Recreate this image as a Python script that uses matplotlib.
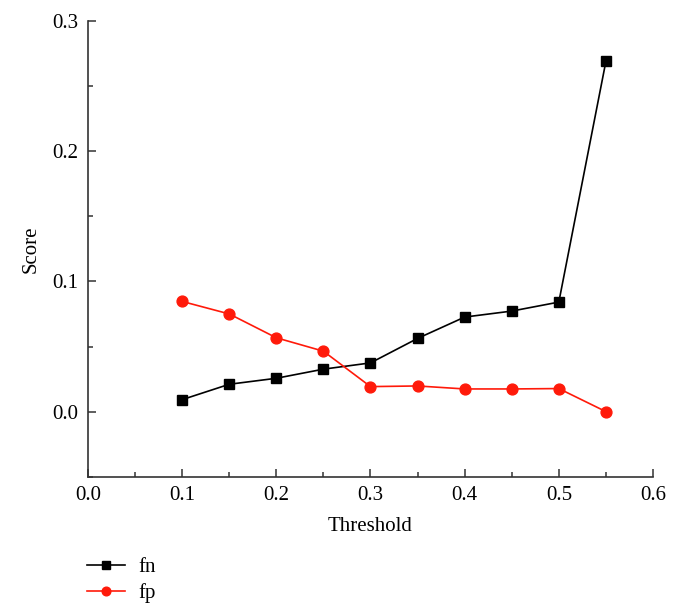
import numpy as np
import matplotlib
matplotlib.use("Agg")
import matplotlib.pyplot as plt
from matplotlib.ticker import MultipleLocator

plt.rcParams['font.family'] = ['Liberation Serif', 'DejaVu Serif']

# valeurs
threshold = [0.10, 0.15, 0.20, 0.25, 0.30, 0.35, 0.40, 0.45, 0.50, 0.55]
fn = [0.0092, 0.021, 0.0256, 0.0326, 0.0374, 0.0562, 0.0726, 0.0772, 0.0841, 0.269]
fp = [0.0846, 0.075, 0.0567, 0.0464, 0.0192, 0.0197, 0.0174, 0.0174, 0.0177, 0.0]

fig = plt.figure(figsize=(6.79, 6.16), dpi=100)
ax = fig.add_axes([0.1296, 0.2261, 0.8321, 0.7399])

ax.plot(threshold, fn, color='black', marker='s', markersize=6.5,
        linewidth=1.2, label='fn', clip_on=False, zorder=3)
ax.plot(threshold, fp, color='#ff1a0a', marker='o', markersize=7.8,
        linewidth=1.2, label='fp', clip_on=False, zorder=3)

ax.set_xlim(0.0, 0.6)
ax.set_ylim(-0.05, 0.3)
ax.xaxis.set_major_locator(MultipleLocator(0.1))
ax.xaxis.set_minor_locator(MultipleLocator(0.05))
ax.yaxis.set_major_locator(MultipleLocator(0.1))
ax.yaxis.set_minor_locator(MultipleLocator(0.05))
ax.xaxis.set_major_formatter(plt.FuncFormatter(lambda v, p: f"{v:.1f}"))
ax.yaxis.set_major_formatter(plt.FuncFormatter(lambda v, p: f"{v:.1f}"))

for s in ['top', 'right']:
    ax.spines[s].set_visible(False)
for s in ['left', 'bottom']:
    ax.spines[s].set_color('#333333')
    ax.spines[s].set_linewidth(1.2)

ax.tick_params(which='major', direction='in', length=6, width=1.1,
               color='#333333', labelsize=15, pad=7)
ax.tick_params(which='minor', direction='in', length=3.5, width=1.1,
               color='#333333')

ax.set_xlabel("Threshold", fontsize=15, labelpad=8)
ax.set_ylabel("Score", fontsize=15, labelpad=8)

fig.legend(loc='upper left', bbox_to_anchor=(0.128, 0.095), frameon=False,
           fontsize=15, handlelength=1.85, handletextpad=0.6,
           labelspacing=0.3, borderpad=0, borderaxespad=0, markerscale=0.8)

fig.savefig("out.png", dpi=100)
